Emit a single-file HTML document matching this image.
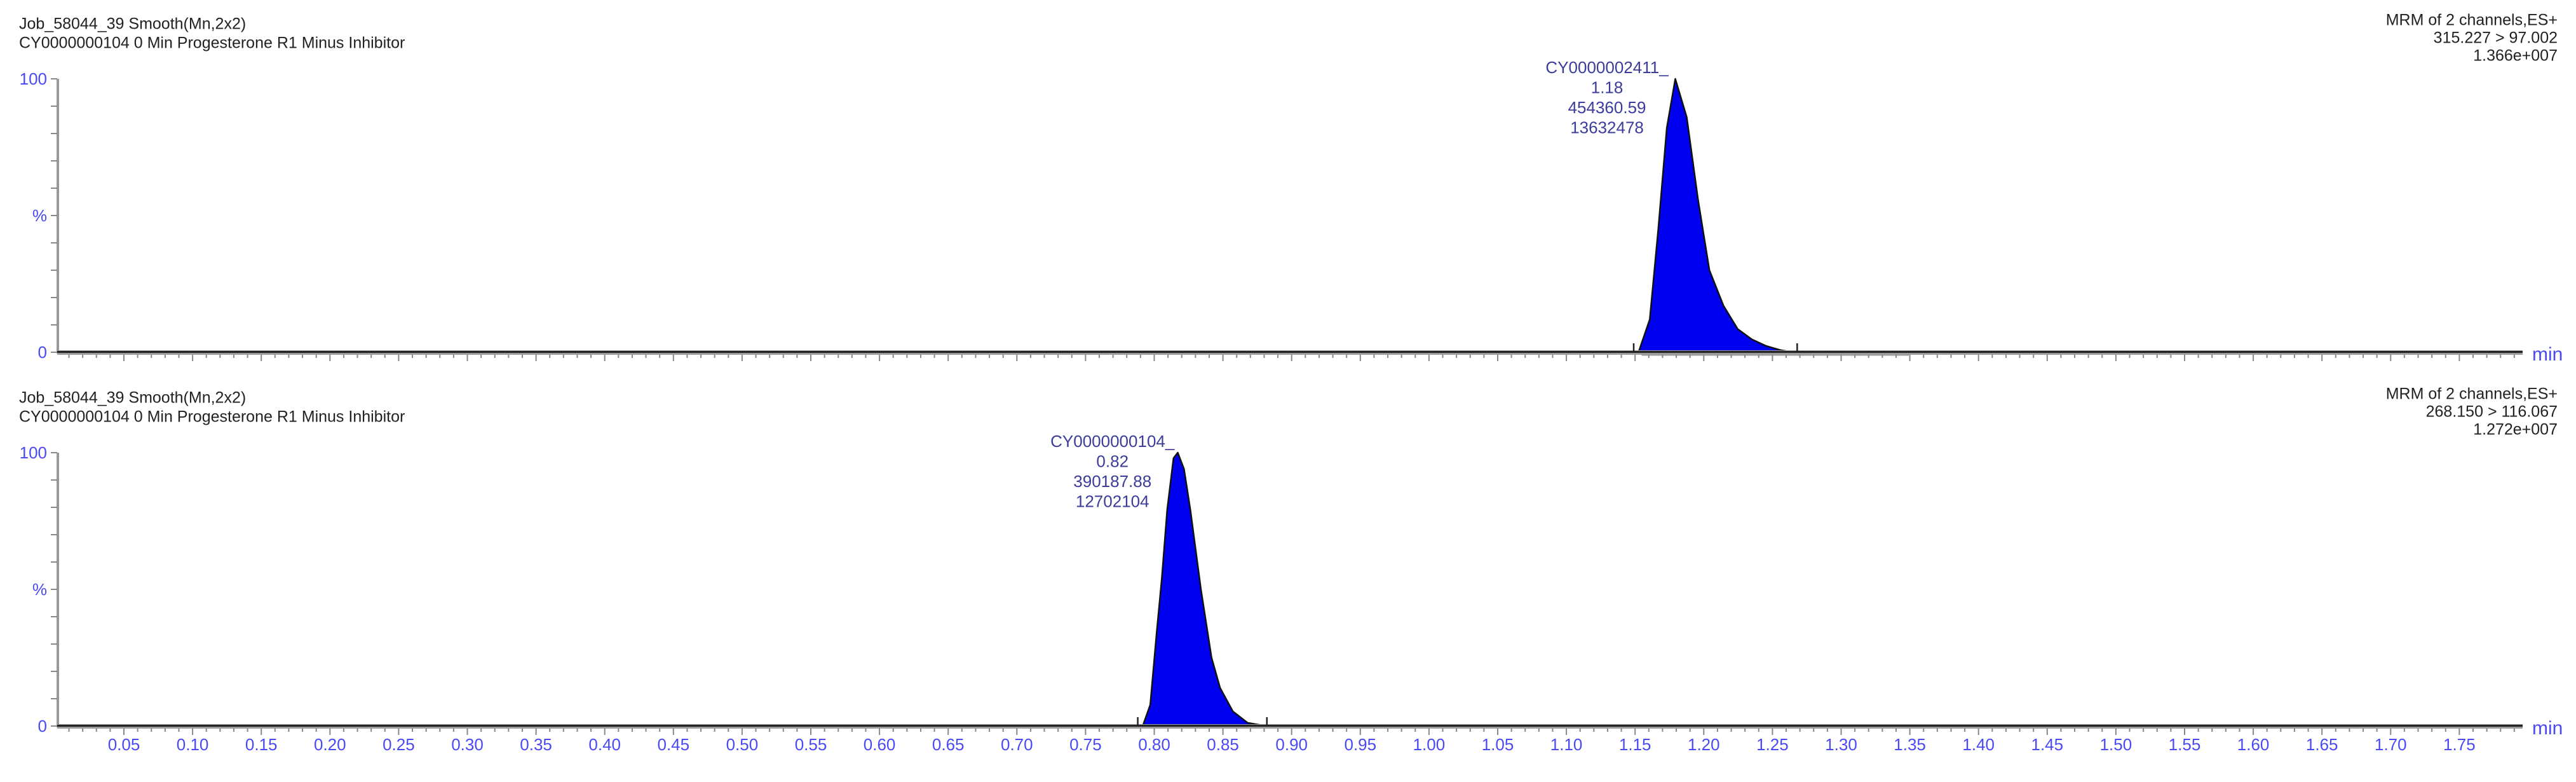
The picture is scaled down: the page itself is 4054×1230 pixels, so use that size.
<!DOCTYPE html>
<html><head><meta charset="utf-8"><style>
html,body{margin:0;padding:0;background:#fff;}
svg{display:block;font-family:"Liberation Sans",Arial,sans-serif;}
</style></head><body>
<svg id="chart" width="4054" height="1230" viewBox="0 0 4054 1230" xmlns="http://www.w3.org/2000/svg"></svg>
<script>
// ---- data ----
const xTickLabels = ["0.05","0.10","0.15","0.20","0.25","0.30","0.35","0.40","0.45","0.50","0.55","0.60","0.65","0.70","0.75","0.80","0.85","0.90","0.95","1.00","1.05","1.10","1.15","1.20","1.25","1.30","1.35","1.40","1.45","1.50","1.55","1.60","1.65","1.70","1.75"];
const topTimes = [1.1525,1.1607,1.1669,1.1731,1.1793,1.1876,1.1958,1.2041,1.2144,1.2247,1.2350,1.2454,1.2557,1.2650];
const topValues = [0,12,45,82,100,86,56,30,17,8.5,4.7,2.3,0.8,0];
const botTimes = [0.7916,0.7971,0.8017,0.8055,0.8094,0.8140,0.8171,0.8217,0.8263,0.8340,0.8417,0.8479,0.8572,0.8679,0.8818];
const botValues = [0,7.8,34,54,79,98,100,94,79,50,25,14,5.4,1.2,0];
const topHeader = ["Job_58044_39 Smooth(Mn,2x2)","CY0000000104 0 Min Progesterone R1 Minus Inhibitor"];
const topRight = ["MRM of 2 channels,ES+","315.227 > 97.002","1.366e+007"];
const botRight = ["MRM of 2 channels,ES+","268.150 > 116.067","1.272e+007"];
const topPeakLabel = ["CY0000002411_","1.18","454360.59","13632478"];
const botPeakLabel = ["CY0000000104_","0.82","390187.88","12702104"];
const topPeakRT = 1.18, botPeakRT = 0.82;
const topIntegration = [1.149, 1.268];
const topBand = [1.155, 1.349];
const botIntegration = [0.788, 0.882];

// ---- scales ----
const NS = "http://www.w3.org/2000/svg";
const svg = document.getElementById('chart');
const pxPerMin = 2162;
function xs(t){ return 195 + (t - 0.05) * pxPerMin; }
const axisX0 = 90, axisX1 = 3970, panelH = 430;
function mk(tag, attrs, parent){
  const e = document.createElementNS(NS, tag);
  for (const k in attrs) e.setAttribute(k, attrs[k]);
  (parent || svg).appendChild(e);
  return e;
}
function txt(str, x, y, size, fill, anchor, parent){
  const t = mk('text', {x:x, y:y, 'font-size':size, fill:fill, 'text-anchor':anchor||'start', 'dominant-baseline':'middle'}, parent);
  t.textContent = str;
  return t;
}

function panel(base, header, rightHdr, times, values, peakLabel, peakRT, integ, band, showLabels, pname){
  const g = mk('g', {});
  
  
  const ys = v => base - v / 100 * panelH;
  // headers
  header.forEach((s, i) => {
    const t = txt(s, 30, base - 515 + i * 30, 25, '#222', 'start', g);
    
    
  });
  rightHdr.forEach((s, i) => {
    const t = txt(s, 4025, base - 521 + i * 28, 25, '#222', 'end', g);
    
    
  });
  // y axis
  const ya = mk('rect', {x:axisX0 - 1, y:ys(100), width:4, height:panelH + 2, fill:'#999'}, g);
  
  
  for (let v = 0; v <= 100; v += 10) {
    mk('line', {x1:axisX0 - 10, x2:axisX0, y1:ys(v), y2:ys(v), stroke:'#888', 'stroke-width':2}, g);
  }
  const l100 = txt('100', 74, ys(100) + 2, 26, '#4a4af5', 'end', g);
  
  
  const lp = txt('%', 74, ys(50) + 2, 26, '#4a4af5', 'end', g);
  
  
  const l0 = txt('0', 74, ys(0) + 2, 26, '#4a4af5', 'end', g);
  
  
  // integration band
  if (band) {
    const b = mk('rect', {x:xs(band[0]), y:base + 1, width:xs(band[1]) - xs(band[0]), height:4, fill:'#c8c8c8', stroke:'#888', 'stroke-width':1}, g);
    
    
  }
  // peak
  let d = '';
  times.forEach((t, i) => { d += (i ? 'L' : 'M') + xs(t).toFixed(1) + ',' + ys(values[i]).toFixed(1); });
  d += 'Z';
  const pk = mk('path', {d:d, fill:'#0000f0', stroke:'#111', 'stroke-width':2.5, 'stroke-linejoin':'round'}, g);
  
  
  // x axis baseline
  const xa = mk('rect', {x:axisX0, y:base - 3, width:axisX1 - axisX0, height:7, fill:'#9a9a9a'}, g);
  
  
  mk('rect', {x:axisX0, y:base - 2, width:axisX1 - axisX0, height:3, fill:'#222'}, g);
  // integration markers
  integ.forEach(t => {
    const m = mk('line', {x1:xs(t), x2:xs(t), y1:base - 14, y2:base, stroke:'#222', 'stroke-width':2.5}, g);
    
    
  });
  // x ticks
  for (let i = 1; i <= 179; i++) {
    const t = i / 100;
    const major = i % 5 === 0;
    mk('line', {x1:xs(t), x2:xs(t), y1:base + 4, y2:base + (major ? 14 : 9), stroke:'#888', 'stroke-width':2}, g);
  }
  if (showLabels) {
    xTickLabels.forEach(s => {
      const t = txt(s, xs(parseFloat(s)), base + 31, 26, '#4a4af5', 'middle', g);
      
      
    });
  }
  const mn = txt('min', 3985, base + 5, 30, '#4a4af5', 'start', g);
  
  
  // peak label
  const cx = xs(peakRT) - 109;
  peakLabel.forEach((s, i) => {
    const t = txt(s, cx, ys(100) - 16 + i * 31.5, 26, '#3c3c9c', 'middle', g);
    
    
  });
}

panel(554, topHeader, topRight, topTimes, topValues, topPeakLabel, topPeakRT, topIntegration, topBand, false, 'top-chromatogram');
panel(1142, topHeader, botRight, botTimes, botValues, botPeakLabel, botPeakRT, botIntegration, null, true, 'bottom-chromatogram');
</script>
</body></html>
